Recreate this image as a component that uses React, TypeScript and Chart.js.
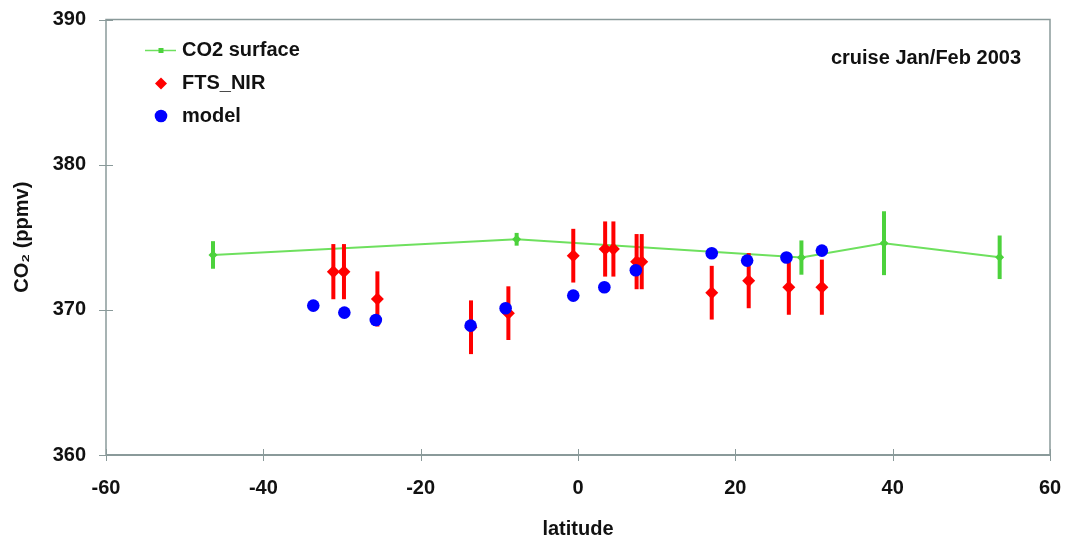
import React, { useEffect, useRef } from 'react';
import { Chart, registerables } from 'chart.js';

Chart.register(...registerables);

const surfaceLat = [-46.4, -7.8, 28.4, 38.9, 53.6];
const surfaceCO2 = [373.78, 374.86, 373.6, 374.59, 373.62];
const surfaceErr = [0.95, 0.44, 1.18, 2.2, 1.5];

const ftsLat = [-31.1, -29.75, -25.5, -13.6, -8.85, -0.6, 3.45, 4.5, 7.45, 8.1, 17.0, 21.7, 26.8, 31.0];
const ftsCO2 = [372.63, 372.63, 370.75, 368.8, 369.77, 373.73, 374.19, 374.19, 373.32, 373.32, 371.18, 372.01, 371.56, 371.56];
const ftsErr = [1.9, 1.9, 1.9, 1.85, 1.85, 1.85, 1.9, 1.9, 1.9, 1.9, 1.85, 1.9, 1.9, 1.9];

const modelLat = [-33.65, -29.7, -25.7, -13.65, -9.2, -0.6, 3.35, 7.35, 17.0, 21.5, 26.5, 31.0];
const modelCO2 = [370.29, 369.81, 369.3, 368.91, 370.11, 370.98, 371.56, 372.73, 373.9, 373.39, 373.6, 374.08];

const xTickValues = [-60, -40, -20, 0, 20, 40, 60];
const yTickValues = [360, 370, 380, 390];

const seriesNames = ['CO2 surface', 'FTS_NIR', 'model'];
const annotationText = 'cruise Jan/Feb 2003';
const xTitle = 'latitude';
const yTitle = 'CO\u2082 (ppmv)';

const FONT = '"Liberation Sans", Arial, sans-serif';
const GREEN_LINE = '#6ee05e';
const GREEN = '#4cd23c';
const RED = '#ff0000';
const BLUE = '#0000ff';
const FRAME = '#8a9a9a';

const errorBarPlugin = {
  id: 'errorBars',
  beforeDatasetDraw(chart: any, args: any) {
    const ds: any = chart.data.datasets[args.index];
    if (!ds.errors) return;
    const { ctx, scales } = chart;
    const xs = scales.x;
    const ys = scales.y;
    ctx.save();
    ctx.strokeStyle = ds.errorColor;
    ctx.lineWidth = ds.errorWidth;
    ds.data.forEach((p: any, i: number) => {
      const e = ds.errors[i];
      const px = xs.getPixelForValue(p.x);
      ctx.beginPath();
      ctx.moveTo(px, ys.getPixelForValue(p.y + e));
      ctx.lineTo(px, ys.getPixelForValue(p.y - e));
      ctx.stroke();
    });
    ctx.restore();
  },
};

const framePlugin = {
  id: 'frame',
  beforeDatasetsDraw(chart: any) {
    const { ctx, chartArea, scales } = chart;
    const { left, right, top, bottom } = chartArea;
    ctx.save();
    ctx.strokeStyle = FRAME;
    ctx.lineWidth = 1.5;
    ctx.strokeRect(left, top, right - left, bottom - top);
    ctx.lineWidth = 2;
    ctx.beginPath();
    ctx.moveTo(left, bottom);
    ctx.lineTo(right, bottom);
    ctx.stroke();
    ctx.lineWidth = 1;
    xTickValues.forEach((v) => {
      const px = Math.round(scales.x.getPixelForValue(v)) + 0.5;
      ctx.beginPath();
      ctx.moveTo(px, bottom - 6);
      ctx.lineTo(px, bottom + 6);
      ctx.stroke();
    });
    yTickValues.forEach((v) => {
      const py = Math.round(scales.y.getPixelForValue(v)) + 0.5;
      ctx.beginPath();
      ctx.moveTo(left - 7, py);
      ctx.lineTo(left + 7, py);
      ctx.stroke();
    });
    ctx.restore();
  },
};

const legendPlugin = {
  id: 'customLegend',
  afterDraw(chart: any) {
    const { ctx, chartArea } = chart;
    ctx.save();
    ctx.font = `bold 20px ${FONT}`;
    ctx.fillStyle = '#111';
    ctx.textBaseline = 'middle';
    ctx.textAlign = 'left';
    const mx = 161;
    const tx = 182;
    const rows = [50.5, 83.5, 116];
    ctx.strokeStyle = GREEN_LINE;
    ctx.lineWidth = 1.5;
    ctx.beginPath();
    ctx.moveTo(145, rows[0]);
    ctx.lineTo(176, rows[0]);
    ctx.stroke();
    ctx.fillStyle = GREEN;
    ctx.fillRect(mx - 2.5, rows[0] - 2.5, 5, 5);
    ctx.fillStyle = RED;
    ctx.beginPath();
    ctx.moveTo(mx, rows[1] - 6);
    ctx.lineTo(mx + 6, rows[1]);
    ctx.lineTo(mx, rows[1] + 6);
    ctx.lineTo(mx - 6, rows[1]);
    ctx.closePath();
    ctx.fill();
    ctx.fillStyle = BLUE;
    ctx.beginPath();
    ctx.arc(mx, rows[2], 6.3, 0, Math.PI * 2);
    ctx.fill();
    ctx.fillStyle = '#111';
    seriesNames.forEach((n, i) => ctx.fillText(n, tx, rows[i]));
    ctx.textAlign = 'right';
    ctx.fillText(annotationText, chartArea.right - 29, 58);
    ctx.restore();
  },
};

export default function App() {
  const ref = useRef<HTMLCanvasElement | null>(null);

  useEffect(() => {
    if (!ref.current) return;
    const chart = new Chart(ref.current, {
      type: 'scatter',
      data: {
        datasets: [
          {
            label: seriesNames[0],
            data: surfaceLat.map((x, i) => ({ x, y: surfaceCO2[i] })),
            showLine: true,
            borderColor: GREEN_LINE,
            borderWidth: 2,
            backgroundColor: GREEN,
            pointBackgroundColor: GREEN,
            pointBorderColor: GREEN,
            pointStyle: 'rectRot',
            pointRadius: 4.5,
            pointBorderWidth: 0,
            order: 3,
            errors: surfaceErr,
            errorColor: GREEN,
            errorWidth: 4,
          } as any,
          {
            label: seriesNames[1],
            data: ftsLat.map((x, i) => ({ x, y: ftsCO2[i] })),
            showLine: false,
            backgroundColor: RED,
            borderColor: RED,
            pointStyle: 'rectRot',
            pointRadius: 6.5,
            pointBorderWidth: 0,
            order: 2,
            errors: ftsErr,
            errorColor: RED,
            errorWidth: 4,
          } as any,
          {
            label: seriesNames[2],
            data: modelLat.map((x, i) => ({ x, y: modelCO2[i] })),
            showLine: false,
            backgroundColor: BLUE,
            borderColor: BLUE,
            pointStyle: 'circle',
            pointRadius: 6.3,
            pointBorderWidth: 0,
            order: 1,
          } as any,
        ],
      },
      options: {
        responsive: false,
        animation: false,
        events: [],
        layout: { padding: { left: 0, right: 16, top: 19.5, bottom: 0 } },
        plugins: { legend: { display: false }, tooltip: { enabled: false } },
        scales: {
          x: {
            type: 'linear',
            min: -60,
            max: 60,
            afterFit: (s: any) => {
              s.height = 84;
              s.paddingLeft = 0;
              s.paddingRight = 0;
            },
            afterBuildTicks: (s: any) => { s.ticks = xTickValues.map((v) => ({ value: v })); },
            grid: { display: false, drawTicks: false },
            border: { display: false },
            ticks: {
              padding: 21,
              color: '#111',
              font: { family: FONT, size: 20, weight: 'bold', lineHeight: 1.2 },
            },
            title: {
              display: true,
              text: xTitle,
              color: '#111',
              padding: { top: 0, bottom: 0 },
              font: { family: FONT, size: 20, weight: 'bold', lineHeight: 1 },
            },
          },
          y: {
            type: 'linear',
            min: 360,
            max: 390,
            afterFit: (s: any) => {
              s.width = 106;
              s.paddingTop = 0;
              s.paddingBottom = 0;
            },
            afterBuildTicks: (s: any) => { s.ticks = yTickValues.map((v) => ({ value: v })); },
            grid: { display: false, drawTicks: false },
            border: { display: false },
            ticks: {
              padding: 20,
              color: '#111',
              font: { family: FONT, size: 20, weight: 'bold', lineHeight: 1.2 },
            },
            title: {
              display: true,
              text: yTitle,
              color: '#111',
              padding: { top: 12, bottom: 0 },
              font: { family: FONT, size: 20, weight: 'bold', lineHeight: 1 },
            },
          },
        },
      } as any,
      plugins: [framePlugin, errorBarPlugin, legendPlugin],
    });
    return () => chart.destroy();
  }, []);

  return (
    <div style={{ position: 'absolute', left: 0, top: 0, width: 1066, height: 539, background: '#fff' }}>
      <canvas ref={ref} width={1066} height={539} />
    </div>
  );
}
